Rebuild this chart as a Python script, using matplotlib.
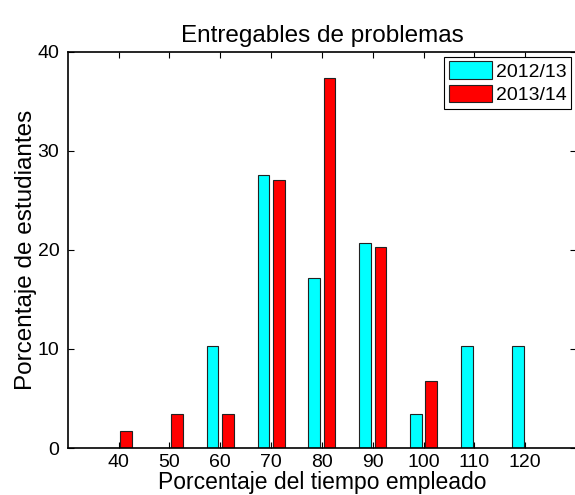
import numpy as np
import matplotlib
matplotlib.use('Agg')
import matplotlib.pyplot as plt

plt.rcParams['font.family'] = ['Liberation Sans', 'DejaVu Sans']

# Porcentaje del tiempo empleado
tiempos = [40, 50, 60, 70, 80, 90, 100, 110, 120]
curso_1213 = [0, 0, 10.3, 27.6, 17.2, 20.7, 3.4, 10.3, 10.3]
curso_1314 = [1.7, 3.4, 3.4, 27.1, 37.3, 20.3, 6.8, 0, 0]
series = ['2012/13', '2013/14']

fig = plt.figure(figsize=(5.75, 4.95), dpi=100)
ax = fig.add_axes([0.1177, 0.0949, 0.8843, 0.8006])

x = np.array(tiempos)
ancho = 2.3
ax.bar(x - 1.5, curso_1213, width=ancho, color='#00ffff', edgecolor='#222222',
       linewidth=0.8, label=series[0])
ax.bar(x + 1.5, curso_1314, width=ancho, color='#ff0000', edgecolor='#222222',
       linewidth=0.8, label=series[1])

ax.set_xlim(30, 130)
ax.set_ylim(0, 40)
ax.set_xticks(tiempos)
ax.set_yticks([0, 10, 20, 30, 40])
ax.tick_params(direction='in', top=True, right=True, length=4, width=0.8,
               labelsize=14, pad=6)
ax.tick_params(axis='x', pad=4.5)
for s in ax.spines.values():
    s.set_linewidth(1.2)

ax.set_title('Entregables de problemas', fontsize=17.5, pad=7)
ax.set_xlabel('Porcentaje del tiempo empleado', fontsize=16.5, labelpad=0)
ax.set_ylabel('Porcentaje de estudiantes', fontsize=17.5, labelpad=0.5)

leg = ax.legend(loc='upper right', fontsize=14, fancybox=False, framealpha=1,
                edgecolor='black', borderpad=0.25, labelspacing=0.2,
                handlelength=2.2, handleheight=1.0, handletextpad=0.2,
                borderaxespad=0.25)
leg.get_frame().set_linewidth(0.8)

fig.savefig('out.png', dpi=100)
